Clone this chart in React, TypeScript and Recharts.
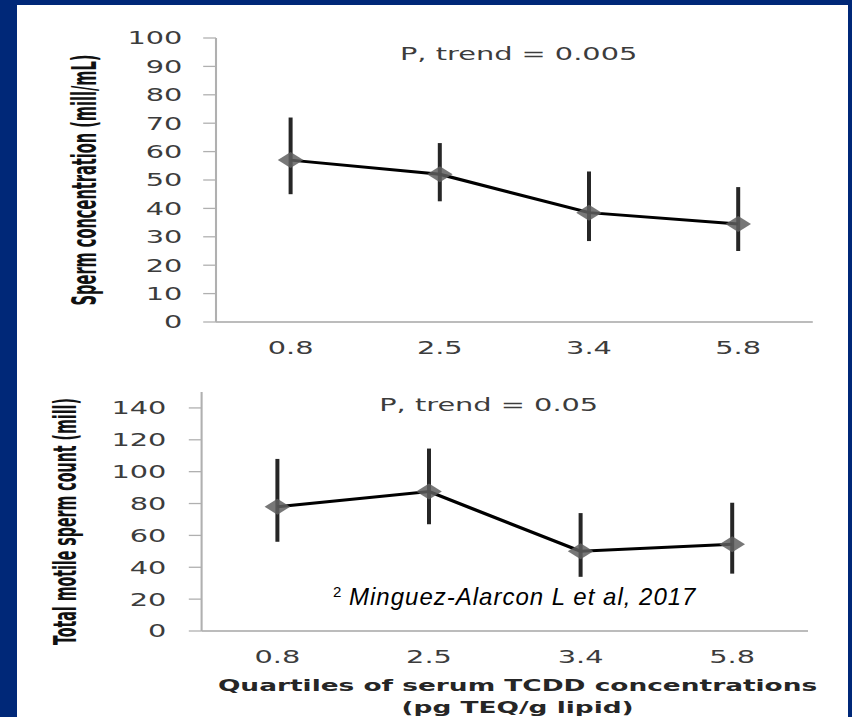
import { ErrorBar, Label, Line, LineChart, XAxis, YAxis } from 'recharts'

const quartiles = ['0.8', '2.5', '3.4', '5.8']

const concMean = [57, 52, 38.5, 34.5]
const concLow = [45, 42.5, 28.5, 25]
const concHigh = [72, 63, 53, 47.5]
const concTicks = [0, 10, 20, 30, 40, 50, 60, 70, 80, 90, 100]

const motileMean = [78, 87.5, 50, 54.5]
const motileLow = [56, 67, 34, 36]
const motileHigh = [108, 114.5, 74, 80.5]
const motileTicks = [0, 20, 40, 60, 80, 100, 120, 140]

// the source slide is a horizontally stretched Excel chart, so draw narrow and stretch
const STRETCH = 1.6
const CHART_W = 532
const NAVY = '#002878'
const FONT = '"DejaVu Sans", Verdana, sans-serif'
const NARROW = '"Liberation Sans Narrow", "DejaVu Sans Condensed", "Liberation Sans", sans-serif'

type Row = { q: string; mean: number; err: [number, number] }

function buildRows(mean: number[], low: number[], high: number[]): Row[] {
  return quartiles.map((q, i) => ({ q, mean: mean[i], err: [mean[i] - low[i], high[i] - mean[i]] }))
}

const concRows = buildRows(concMean, concLow, concHigh)
const motileRows = buildRows(motileMean, motileLow, motileHigh)

function Diamond(props: any) {
  const { cx, cy, index } = props
  if (cx == null || cy == null) return null
  const r = 8
  return (
    <polygon
      key={`d-${index}`}
      points={`${cx},${cy - r} ${cx + r},${cy} ${cx},${cy + r} ${cx - r},${cy}`}
      fill="#5f5f5f"
      fillOpacity={0.85}
    />
  )
}

// rotated title, thickened across its baseline like the stretched original
function VerticalTitle({ viewBox, text, cx, dy, size }: any) {
  const { x, y, height } = viewBox
  const px = x + cx
  const py = y + height / 2 + dy
  return (
    <text
      x={0}
      y={0}
      transform={`translate(${px} ${py}) rotate(-90) scale(1 1.27)`}
      textAnchor="middle"
      dominantBaseline="central"
      fontFamily={NARROW}
      fontWeight="bold"
      fontSize={size}
      fill="#111"
    >
      {text}
    </text>
  )
}

function XTitle({ viewBox }: any) {
  const { x, y, width } = viewBox
  const mid = x + width / 2 + 8
  return (
    <text textAnchor="middle" fontFamily={FONT} fontWeight="bold" fontSize={16.5} fill="#262626">
      <tspan x={mid} y={y + 60}>
        Quartiles of serum TCDD concentrations
      </tspan>
      <tspan x={mid} y={y + 82}>
        (pg TEQ/g lipid)
      </tspan>
    </text>
  )
}

type PanelProps = {
  rows: Row[]
  ticks: number[]
  domain: [number, number]
  height: number
  margin: { top: number; right: number; bottom: number; left: number }
  yWidth: number
  tickMargin: number
  yTitle: string
  yTitleX: number
  yTitleDy: number
  yTitleSize: number
  pText: string
  pLeft: number
  pTop: number
  withXTitle?: boolean
}

function TrendPanel(p: PanelProps) {
  return (
    <div
      style={{
        position: 'relative',
        width: CHART_W,
        height: p.height,
        transform: `scaleX(${STRETCH})`,
        transformOrigin: '0 0',
      }}
    >
      <LineChart width={CHART_W} height={p.height} data={p.rows} margin={p.margin}>
        <XAxis
          dataKey="q"
          scale="band"
          interval={0}
          height={30}
          tickLine={false}
          tickSize={0}
          tickMargin={19}
          axisLine={{ stroke: '#a6a6a6', strokeWidth: 1.5 }}
          tick={{ fill: '#3c3c3c', fontSize: 18, fontFamily: FONT }}
        >
          {p.withXTitle ? <Label content={(lp: any) => <XTitle {...lp} />} /> : null}
        </XAxis>
        <YAxis
          type="number"
          domain={p.domain}
          ticks={p.ticks}
          interval={0}
          width={p.yWidth}
          tickSize={8}
          tickMargin={p.tickMargin}
          axisLine={{ stroke: '#b0b0b0', strokeWidth: 1.3 }}
          tickLine={{ stroke: '#b0b0b0', strokeWidth: 1.3 }}
          tick={{ fill: '#3c3c3c', fontSize: 18, fontFamily: FONT }}
        >
          <Label
            content={(lp: any) => (
              <VerticalTitle {...lp} text={p.yTitle} cx={p.yTitleX} dy={p.yTitleDy} size={p.yTitleSize} />
            )}
          />
        </YAxis>
        <Line
          dataKey="mean"
          stroke="#000"
          strokeWidth={3}
          dot={Diamond}
          activeDot={false}
          isAnimationActive={false}
        >
          <ErrorBar dataKey="err" direction="y" width={0} stroke="#262626" strokeWidth={2.5} isAnimationActive={false} />
        </Line>
      </LineChart>
      <div
        style={{
          position: 'absolute',
          left: p.pLeft,
          top: p.pTop,
          fontFamily: FONT,
          fontSize: 18,
          lineHeight: '18px',
          color: '#3c3c3c',
          whiteSpace: 'nowrap',
        }}
      >
        {p.pText}
      </div>
    </div>
  )
}

export default function App() {
  return (
    <div
      style={{
        position: 'absolute',
        left: 0,
        top: 0,
        width: 852,
        height: 717,
        background: NAVY,
        overflow: 'hidden',
      }}
    >
      <div style={{ position: 'absolute', left: 17, top: 5, width: 831, height: 712, background: '#fff' }} />
      <div style={{ position: 'absolute', left: 0, top: 0 }}>
        <TrendPanel
          rows={concRows}
          ticks={concTicks}
          domain={[0, 100]}
          height={360}
          margin={{ top: 38, right: 24, bottom: 8, left: 0 }}
          yWidth={135}
          tickMargin={13}
          yTitle="Sperm concentration (mill/mL)"
          yTitleX={53}
          yTitleDy={0}
          yTitleSize={16.2}
          pText="P, trend = 0.005"
          pLeft={250}
          pTop={45}
        />
      </div>
      <div style={{ position: 'absolute', left: 0, top: 360 }}>
        <TrendPanel
          rows={motileRows}
          ticks={motileTicks}
          domain={[0, 150]}
          height={357}
          margin={{ top: 32, right: 27, bottom: 56, left: 0 }}
          yWidth={126}
          tickMargin={14}
          yTitle="Total motile sperm count (mill)"
          yTitleX={41}
          yTitleDy={10}
          yTitleSize={15.8}
          pText="P, trend = 0.05"
          pLeft={237}
          pTop={36}
          withXTitle
        />
      </div>
      <div
        style={{
          position: 'absolute',
          left: 333,
          top: 580,
          fontFamily: '"Liberation Sans", Arial, sans-serif',
          fontStyle: 'italic',
          fontSize: 24,
          lineHeight: '24px',
          letterSpacing: 1,
          color: '#000',
          whiteSpace: 'nowrap',
        }}
      >
        <span style={{ fontSize: 15, verticalAlign: 8, fontStyle: 'normal', letterSpacing: 0 }}>2</span> Minguez-Alarcon
        L et al, 2017
      </div>
    </div>
  )
}
